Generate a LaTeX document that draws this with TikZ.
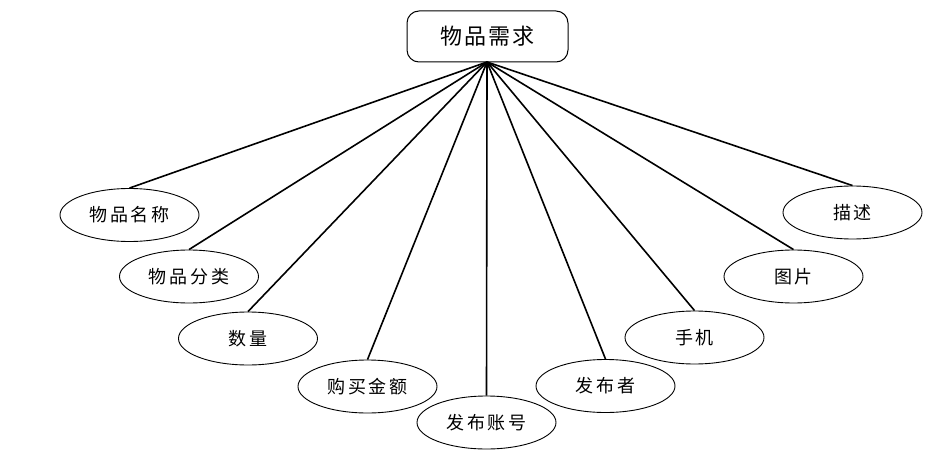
\documentclass[tikz,border=0pt]{standalone}
\usepackage{fontspec}
\newfontfamily\cjk[LetterSpace=16]{Noto Sans CJK SC}
\newfontfamily\cjktop[LetterSpace=10]{Noto Sans CJK SC}
\usetikzlibrary{shapes.geometric}
\begin{document}
\begin{tikzpicture}[x=1pt,y=-1pt,
  attr/.style={draw=black,line width=0.9pt,ellipse,minimum width=139pt,minimum height=53pt,inner sep=0pt,font=\cjk\fontsize{18}{18}\selectfont},
  entity/.style={draw=black,line width=1pt,rounded corners=12pt,minimum width=161pt,minimum height=51pt,inner sep=0pt,font=\cjktop\fontsize{22}{22}\selectfont},
  link/.style={line width=1.6pt}]
\useasboundingbox (0,0) rectangle (934,460);
\node[entity] (top) at (487.5,36.5) {物品需求};
\coordinate (hub) at (487,62);
\node[attr] (a1) at (129.5,215) {物品名称};
\node[attr] (a2) at (189,276.5) {物品分类};
\node[attr] (a3) at (248,338.5) {数量};
\node[attr] (a4) at (367.5,386.5) {购买金额};
\node[attr] (a5) at (486.5,422.5) {发布账号};
\node[attr] (a6) at (605.5,386) {发布者};
\node[attr] (a7) at (694.5,337.5) {手机};
\node[attr] (a8) at (793.5,276.5) {图片};
\node[attr] (a9) at (852.5,212.5) {描述};
\foreach \n in {a1,a2,a3,a4,a5,a6,a7,a8,a9}
  \draw[link] (hub) -- (\n.north);
\end{tikzpicture}
\end{document}
